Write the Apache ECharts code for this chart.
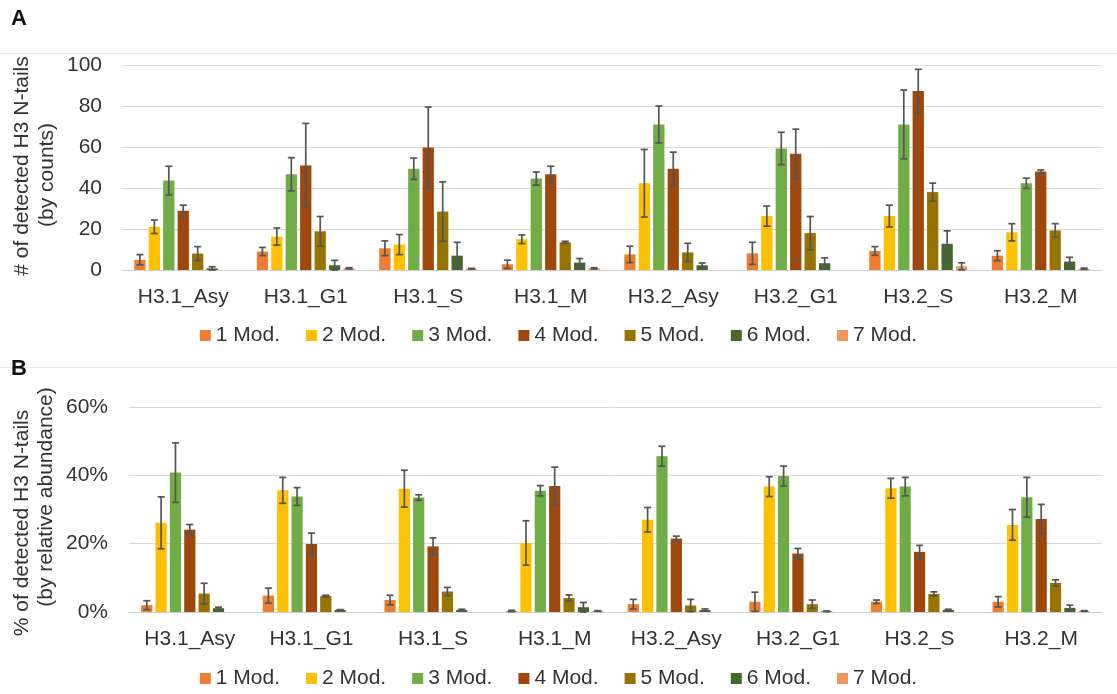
<!DOCTYPE html>
<html>
<head>
<meta charset="utf-8">
<script src="https://cdn.jsdelivr.net/npm/echarts@6/dist/echarts.min.js"></script>
<style>
html,body{margin:0;padding:0;background:#fff;}
#chart{width:1117px;height:694px;}
</style>
</head>
<body>
<div id="chart"></div>
<script>
// ---- data ----
const categories = ['H3.1_Asy','H3.1_G1','H3.1_S','H3.1_M','H3.2_Asy','H3.2_G1','H3.2_S','H3.2_M'];
const seriesNames = ['1 Mod.','2 Mod.','3 Mod.','4 Mod.','5 Mod.','6 Mod.','7 Mod.'];
const colors = ['#ED7D31','#FFC000','#70AD47','#9E480E','#997300','#43682B','#F1975A'];

// Panel A: counts (mean, error)
const countMod1 = [5, 9, 10.6, 2.8, 7.6, 8.1, 9.3, 7];
const countErr1 = [2.5, 2, 3.6, 2, 4, 5.4, 2.1, 2.4];
const countMod2 = [21.1, 16.3, 12.4, 15, 42.3, 26.3, 26.3, 18.4];
const countErr2 = [3.3, 4.2, 4.9, 2.1, 16.5, 4.9, 5.3, 4.2];
const countMod3 = [43.6, 46.7, 49.4, 44.6, 71, 59.3, 71, 42.3];
const countErr3 = [7, 8.1, 5.2, 3.2, 9, 7.9, 16.8, 2.5];
const countMod4 = [28.9, 51, 59.8, 46.7, 49.4, 56.7, 87.3, 48];
const countErr4 = [2.7, 20.5, 19.7, 3.9, 8.1, 12, 10.6, 0.8];
const countMod5 = [8, 18.9, 28.5, 13.5, 8.6, 18, 38, 19.3];
const countErr5 = [3.4, 7.2, 14.5, 0.5, 4.4, 8.1, 4.4, 3.3];
const countMod6 = [0.8, 2.3, 7, 3.6, 2.3, 3.3, 12.8, 4.1];
const countErr6 = [0.8, 2.4, 6.5, 2, 1.1, 2.6, 6.3, 2.1];
const countMod7 = [0, 0.8, 0.6, 0.8, 0, 0, 1.8, 0.6];
const countErr7 = [0, 0.3, 0.2, 0.3, 0, 0, 1.7, 0.3];

// Panel B: relative abundance in % (mean, error)
const pctMod1 = [2.0, 4.8, 3.5, 0.3, 2.3, 3, 3, 3];
const pctErr1 = [1.3, 2.2, 1.4, 0.2, 1.4, 2.8, 0.5, 1.5];
const pctMod2 = [26.1, 35.6, 36.1, 20.2, 27, 36.7, 36.2, 25.5];
const pctErr2 = [7.6, 3.8, 5.4, 6.5, 3.6, 2.9, 2.9, 4.5];
const pctMod3 = [40.8, 33.8, 33.5, 35.5, 45.6, 39.8, 36.7, 33.6];
const pctErr3 = [8.7, 2.6, 0.8, 1.5, 2.9, 2.9, 2.7, 5.8];
const pctMod4 = [24.1, 19.9, 19.2, 36.9, 21.5, 17.1, 17.6, 27.2];
const pctErr4 = [1.5, 3.2, 2.5, 5.5, 0.7, 1.5, 1.9, 4.3];
const pctMod5 = [5.4, 4.7, 6, 4.1, 1.9, 2.3, 5.3, 8.5];
const pctErr5 = [3, 0.2, 1.2, 0.9, 1.8, 1.2, 0.6, 0.9];
const pctMod6 = [1.1, 0.6, 0.6, 1.4, 0.6, 0.2, 0.6, 1.2];
const pctErr6 = [0.3, 0.1, 0.2, 1.4, 0.3, 0.1, 0.2, 0.8];
const pctMod7 = [0, 0, 0, 0.3, 0, 0, 0, 0.3];
const pctErr7 = [0, 0, 0, 0.1, 0, 0, 0, 0.1];

const countTicks = [0, 20, 40, 60, 80, 100];
const pctTicks = [0, 20, 40, 60];

// ---- build ----
const countMeans = [countMod1,countMod2,countMod3,countMod4,countMod5,countMod6,countMod7];
const countErrs = [countErr1,countErr2,countErr3,countErr4,countErr5,countErr6,countErr7];
const pctMeans = [pctMod1,pctMod2,pctMod3,pctMod4,pctMod5,pctMod6,pctMod7];
const pctErrs = [pctErr1,pctErr2,pctErr3,pctErr4,pctErr5,pctErr6,pctErr7];

const CAT_GAP = 0.2, BAR_GAP = 0.28, N = seriesNames.length;
const FONT = 'Liberation Sans, Arial, sans-serif';
const TXT = '#333333';
const FS = 21;

function errRender(si) {
  return function (params, api) {
    const ci = api.value(0), mean = api.value(1), err = api.value(2);
    if (!err) return;
    const band = api.size([1, 0])[0];
    const groupW = band * (1 - CAT_GAP);
    const barW = groupW / (N + (N - 1) * BAR_GAP);
    const off = -groupW / 2 + barW / 2 + si * barW * (1 + BAR_GAP);
    const hi = api.coord([ci, mean + err]);
    const lo = api.coord([ci, Math.max(mean - err, 0)]);
    const x = hi[0] + off, cw = 3.5;
    const st = { stroke: '#555555', lineWidth: 1.7 };
    return {
      type: 'group',
      children: [
        { type: 'line', shape: { x1: x, y1: hi[1], x2: x, y2: lo[1] }, style: st },
        { type: 'line', shape: { x1: x - cw, y1: hi[1], x2: x + cw, y2: hi[1] }, style: st },
        { type: 'line', shape: { x1: x - cw, y1: lo[1], x2: x + cw, y2: lo[1] }, style: st }
      ]
    };
  };
}

const series = [];
function addPanel(means, errs, axisIdx) {
  for (let s = 0; s < N; s++) {
    series.push({
      name: seriesNames[s], type: 'bar', xAxisIndex: axisIdx, yAxisIndex: axisIdx,
      data: means[s], itemStyle: { color: colors[s] },
      barCategoryGap: (CAT_GAP * 100) + '%', barGap: (BAR_GAP * 100) + '%',
      animation: false
    });
  }
  for (let s = 0; s < N; s++) {
    series.push({
      type: 'custom', xAxisIndex: axisIdx, yAxisIndex: axisIdx, z: 10,
      renderItem: errRender(s),
      data: categories.map((c, i) => [i, means[s][i], errs[s][i]]),
      encode: { x: 0, y: 1 }, silent: true, animation: false
    });
  }
}
addPanel(countMeans, countErrs, 0);
addPanel(pctMeans, pctErrs, 1);

function xAxis(gi) {
  return {
    type: 'category', gridIndex: gi, data: categories,
    axisTick: { show: false },
    axisLine: { lineStyle: { color: '#d0d0d0', width: 1 } },
    axisLabel: { fontSize: FS, fontFamily: FONT, color: TXT, margin: 17, interval: 0 }
  };
}
function yAxis(gi, ticks, fmt, margin) {
  return {
    type: 'value', gridIndex: gi, min: ticks[0], max: ticks[ticks.length - 1],
    interval: ticks[1] - ticks[0],
    axisLine: { show: false }, axisTick: { show: false },
    splitLine: { lineStyle: { color: '#d9d9d9', width: 1 } },
    axisLabel: { fontSize: FS, fontFamily: FONT, color: TXT, margin: margin, formatter: fmt }
  };
}
function legend(top) {
  return {
    data: seriesNames, top: top, left: 'center', icon: 'rect',
    itemWidth: 11, itemHeight: 11, itemGap: 26, selectedMode: false,
    textStyle: { fontSize: FS, fontFamily: FONT, color: TXT }
  };
}
function vtext(x, y, text) {
  return {
    type: 'text', x: x, y: y, rotation: Math.PI / 2,
    style: { text: text, font: FS + 'px ' + FONT, fill: TXT, align: 'center', verticalAlign: 'middle' }
  };
}

const option = {
  backgroundColor: '#fff',
  animation: false,
  grid: [
    { left: 122, right: 15, top: 65, height: 205 },
    { left: 129, right: 15, top: 407, height: 205 }
  ],
  xAxis: [xAxis(0), xAxis(1)],
  yAxis: [yAxis(0, countTicks, '{value}', 20), yAxis(1, pctTicks, '{value}%', 21)],
  legend: [legend(320), legend(663)],
  series: series,
  graphic: [
    { type: 'line', shape: { x1: 0, y1: 53.5, x2: 1117, y2: 53.5 }, style: { stroke: '#e6e6e6', lineWidth: 1 } },
    { type: 'line', shape: { x1: 0, y1: 367.5, x2: 1117, y2: 367.5 }, style: { stroke: '#e6e6e6', lineWidth: 1 } },
    { type: 'text', x: 11, y: 19, style: { text: 'A', font: 'bold 22px ' + FONT, fill: '#111', verticalAlign: 'middle' } },
    { type: 'text', x: 11, y: 369, style: { text: 'B', font: 'bold 22px ' + FONT, fill: '#111', verticalAlign: 'middle' } },
    vtext(22, 166, '# of detected H3 N-tails'),
    vtext(47, 175, '(by counts)'),
    vtext(22, 523, '% of detected H3 N-tails'),
    vtext(46, 497, '(by relative abundance)')
  ]
};

const chart = echarts.init(document.getElementById('chart'), null, { renderer: 'canvas' });
chart.setOption(option);
</script>
</body>
</html>
